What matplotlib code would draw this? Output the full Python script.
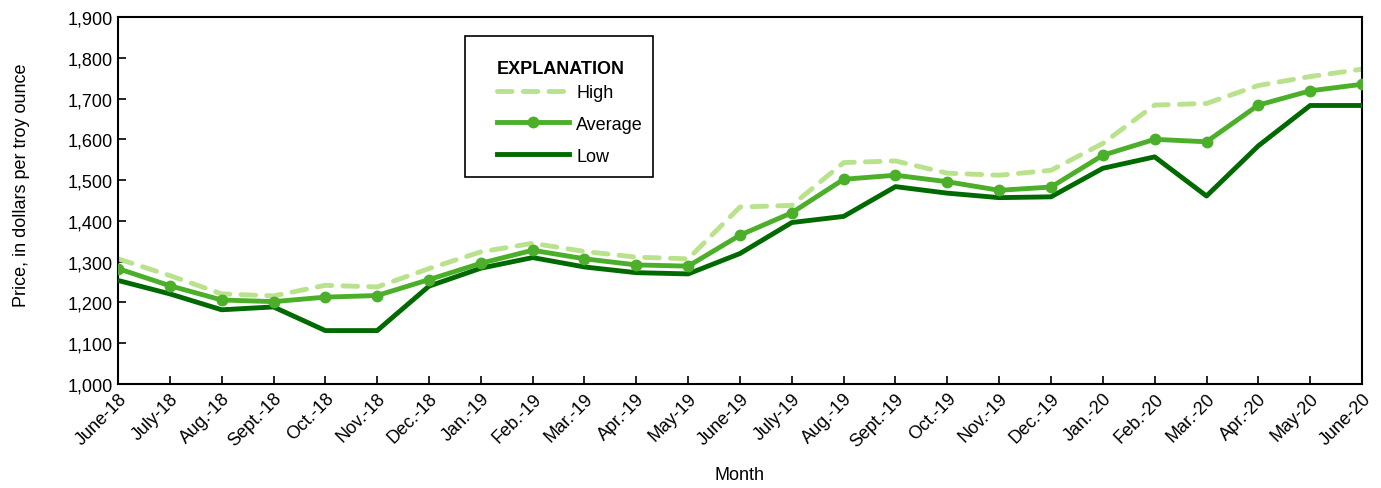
import matplotlib.pyplot as plt
from matplotlib.patches import Rectangle
from matplotlib.ticker import FuncFormatter

plt.rcParams['font.family'] = ['Liberation Sans Narrow', 'Liberation Sans', 'DejaVu Sans']

months = ['June-18', 'July-18', 'Aug.-18', 'Sept.-18', 'Oct.-18', 'Nov.-18', 'Dec.-18',
          'Jan.-19', 'Feb.-19', 'Mar.-19', 'Apr.-19', 'May-19', 'June-19', 'July-19',
          'Aug.-19', 'Sept.-19', 'Oct.-19', 'Nov.-19', 'Dec.-19', 'Jan.-20', 'Feb.-20',
          'Mar.-20', 'Apr.-20', 'May-20', 'June-20']

high = [1307, 1266, 1221, 1216, 1242, 1238, 1283, 1324, 1345, 1325, 1311, 1307, 1434,
        1438, 1543, 1547, 1517, 1512, 1524, 1590, 1684, 1688, 1732, 1754, 1772]
average = [1283, 1241, 1206, 1202, 1213, 1217, 1256, 1296, 1328, 1307, 1292, 1289, 1365,
           1420, 1502, 1512, 1496, 1475, 1483, 1561, 1600, 1594, 1684, 1719, 1735]
low = [1254, 1221, 1182, 1189, 1131, 1131, 1240, 1284, 1310, 1287, 1273, 1270, 1320,
       1396, 1411, 1484, 1468, 1457, 1459, 1529, 1557, 1461, 1584, 1683, 1683]

x = list(range(len(months)))
W, H = 1381, 489
fs = 13

fig = plt.figure(figsize=(W / 100, H / 100), dpi=100)
ax = fig.add_axes([118 / W, 1 - 385 / H, (1362 - 118) / W, (385 - 18) / H])

ax.plot(x, high, color='#b9e28c', lw=3.5, dashes=(3.0, 2.3), dash_capstyle='round',
        label='High', zorder=2)
ax.plot(x, average, color='#4caf2a', lw=3.5, marker='o', ms=7.5, label='Average', zorder=4)
ax.plot(x, low, color='#006a00', lw=3.5, label='Low', zorder=3)

ax.set_xlim(0, len(months) - 1)
ax.set_ylim(1000, 1900)
ax.set_yticks(range(1000, 1901, 100))
ax.yaxis.set_major_formatter(FuncFormatter(lambda v, p: f'{int(v):,}'))
ax.set_xticks(x)
ax.set_xticklabels(months, rotation=45, ha='right', rotation_mode='anchor')
ax.tick_params(direction='in', length=6, width=1.2, labelsize=fs, pad=4)
for s in ax.spines.values():
    s.set_linewidth(1.5)

ax.set_ylabel('Price, in dollars per troy ounce', fontsize=fs)
ax.yaxis.set_label_coords(-0.071, 0.545)
ax.set_xlabel('Month', fontsize=fs, labelpad=12)

# explanation box: frame drawn as a patch, legend entries placed inside it
ax.add_patch(Rectangle((465 / W, 1 - 178 / H), (653 - 465) / W, (178 - 37) / H,
                       transform=fig.transFigure, facecolor='white',
                       edgecolor='black', lw=1.2, zorder=5, clip_on=False))
leg = ax.legend(title='EXPLANATION', loc='upper left',
                bbox_to_anchor=(497 / W, 1 - 61 / H), bbox_transform=fig.transFigure,
                frameon=False, fontsize=fs, handlelength=4.0,
                handletextpad=0.4, labelspacing=0.82, borderpad=0, borderaxespad=0,
                alignment='left', title_fontproperties={'weight': 'bold', 'size': fs})
leg._legend_box.sep = 5
leg.set_zorder(6)

fig.savefig('out.png', dpi=100)
